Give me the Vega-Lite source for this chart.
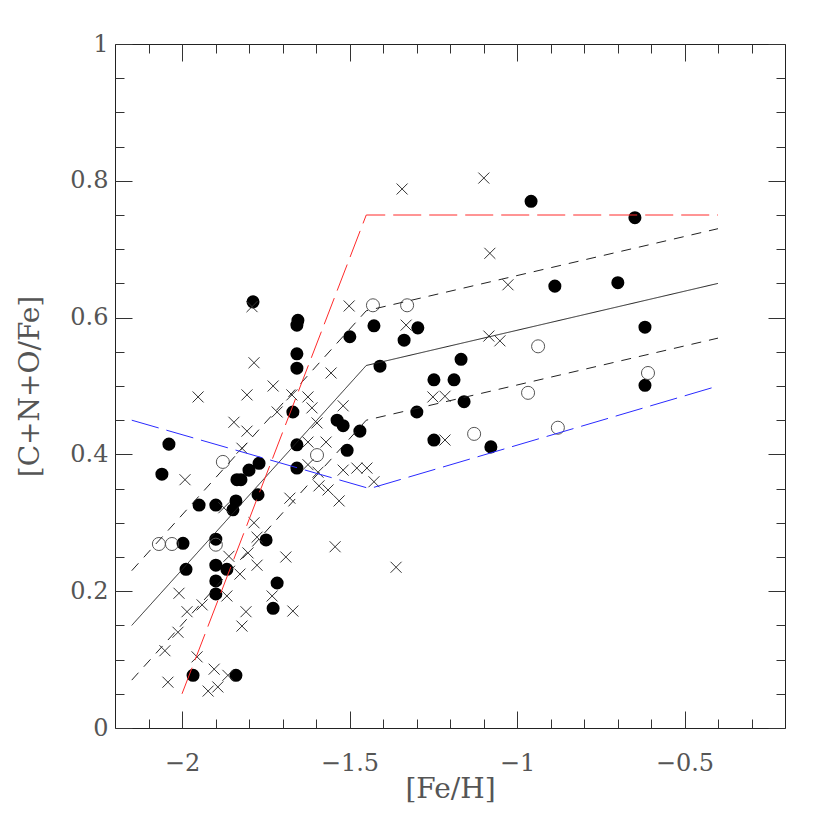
{
  "$schema": "https://vega.github.io/schema/vega-lite/v6.json",
  "width": 670,
  "height": 684,
  "autosize": "none",
  "padding": {"left": 115, "top": 44, "right": 45, "bottom": 102},
  "background": "white",
  "config": {
    "view": {"stroke": "#222", "strokeWidth": 1},
    "axis": {
      "domain": false,
      "grid": false,
      "labelFont": "DejaVu Serif",
      "titleFont": "DejaVu Serif",
      "labelColor": "#555",
      "titleColor": "#555",
      "labelFontSize": 24,
      "titleFontSize": 28,
      "titleFontWeight": "normal",
      "tickColor": "#333",
      "tickWidth": 1
    }
  },
  "datasets": {
    "filled": [
      {"x": -2.060, "y": 0.371}, {"x": -2.039, "y": 0.415}, {"x": -1.997, "y": 0.270}, {"x": -1.988, "y": 0.232},
      {"x": -1.967, "y": 0.077}, {"x": -1.949, "y": 0.326}, {"x": -1.899, "y": 0.326}, {"x": -1.899, "y": 0.276},
      {"x": -1.899, "y": 0.238}, {"x": -1.899, "y": 0.215}, {"x": -1.899, "y": 0.196}, {"x": -1.866, "y": 0.232},
      {"x": -1.848, "y": 0.319}, {"x": -1.839, "y": 0.332}, {"x": -1.836, "y": 0.363}, {"x": -1.824, "y": 0.363},
      {"x": -1.839, "y": 0.077}, {"x": -1.800, "y": 0.377}, {"x": -1.788, "y": 0.623}, {"x": -1.770, "y": 0.387},
      {"x": -1.773, "y": 0.341}, {"x": -1.749, "y": 0.275}, {"x": -1.716, "y": 0.212}, {"x": -1.728, "y": 0.175},
      {"x": -1.669, "y": 0.462}, {"x": -1.657, "y": 0.589}, {"x": -1.654, "y": 0.596}, {"x": -1.657, "y": 0.547},
      {"x": -1.657, "y": 0.526}, {"x": -1.657, "y": 0.414}, {"x": -1.657, "y": 0.380}, {"x": -1.537, "y": 0.450},
      {"x": -1.519, "y": 0.442}, {"x": -1.507, "y": 0.406}, {"x": -1.499, "y": 0.572}, {"x": -1.469, "y": 0.434},
      {"x": -1.427, "y": 0.588}, {"x": -1.409, "y": 0.529}, {"x": -1.337, "y": 0.567}, {"x": -1.296, "y": 0.585},
      {"x": -1.299, "y": 0.462}, {"x": -1.248, "y": 0.509}, {"x": -1.248, "y": 0.421}, {"x": -1.188, "y": 0.509},
      {"x": -1.167, "y": 0.539}, {"x": -1.158, "y": 0.477}, {"x": -1.078, "y": 0.411}, {"x": -0.958, "y": 0.770},
      {"x": -0.887, "y": 0.646}, {"x": -0.699, "y": 0.651}, {"x": -0.648, "y": 0.746}, {"x": -0.618, "y": 0.586},
      {"x": -0.618, "y": 0.501}
    ],
    "open": [
      {"x": -2.069, "y": 0.269}, {"x": -2.030, "y": 0.269}, {"x": -1.899, "y": 0.268}, {"x": -1.878, "y": 0.389},
      {"x": -1.597, "y": 0.399}, {"x": -1.430, "y": 0.618}, {"x": -1.328, "y": 0.618}, {"x": -0.937, "y": 0.558},
      {"x": -0.967, "y": 0.490}, {"x": -1.128, "y": 0.430}, {"x": -0.878, "y": 0.439}, {"x": -0.609, "y": 0.519}
    ],
    "cross": [
      {"x": -1.791, "y": 0.616}, {"x": -1.785, "y": 0.534}, {"x": -1.952, "y": 0.484}, {"x": -1.806, "y": 0.487},
      {"x": -1.845, "y": 0.447}, {"x": -1.806, "y": 0.434}, {"x": -1.991, "y": 0.363}, {"x": -1.821, "y": 0.409},
      {"x": -1.875, "y": 0.322}, {"x": -1.785, "y": 0.300}, {"x": -1.776, "y": 0.279}, {"x": -1.803, "y": 0.256},
      {"x": -1.860, "y": 0.251}, {"x": -1.776, "y": 0.238}, {"x": -2.009, "y": 0.197}, {"x": -1.985, "y": 0.170},
      {"x": -1.940, "y": 0.180}, {"x": -2.012, "y": 0.140}, {"x": -2.051, "y": 0.113}, {"x": -2.042, "y": 0.067},
      {"x": -1.955, "y": 0.104}, {"x": -1.904, "y": 0.086}, {"x": -1.922, "y": 0.054}, {"x": -1.893, "y": 0.060},
      {"x": -1.863, "y": 0.077}, {"x": -1.866, "y": 0.193}, {"x": -1.827, "y": 0.225}, {"x": -1.809, "y": 0.170},
      {"x": -1.821, "y": 0.149}, {"x": -1.501, "y": 0.617}, {"x": -1.555, "y": 0.519}, {"x": -1.728, "y": 0.500},
      {"x": -1.672, "y": 0.487}, {"x": -1.624, "y": 0.484}, {"x": -1.716, "y": 0.462}, {"x": -1.612, "y": 0.468},
      {"x": -1.519, "y": 0.471}, {"x": -1.597, "y": 0.446}, {"x": -1.624, "y": 0.418}, {"x": -1.570, "y": 0.418},
      {"x": -1.624, "y": 0.385}, {"x": -1.594, "y": 0.374}, {"x": -1.519, "y": 0.377}, {"x": -1.478, "y": 0.380},
      {"x": -1.448, "y": 0.380}, {"x": -1.427, "y": 0.360}, {"x": -1.591, "y": 0.354}, {"x": -1.564, "y": 0.348},
      {"x": -1.531, "y": 0.332}, {"x": -1.678, "y": 0.336}, {"x": -1.543, "y": 0.265}, {"x": -1.690, "y": 0.250},
      {"x": -1.361, "y": 0.235}, {"x": -1.731, "y": 0.193}, {"x": -1.669, "y": 0.171}, {"x": -1.343, "y": 0.788},
      {"x": -1.099, "y": 0.804}, {"x": -1.081, "y": 0.694}, {"x": -1.027, "y": 0.648}, {"x": -1.331, "y": 0.589},
      {"x": -1.084, "y": 0.573}, {"x": -1.051, "y": 0.566}, {"x": -1.251, "y": 0.484}, {"x": -1.215, "y": 0.485},
      {"x": -1.215, "y": 0.421}
    ],
    "lines": [
      {"series": "mid", "x": -2.15, "y": 0.15}, {"series": "mid", "x": -1.45, "y": 0.53}, {"series": "mid", "x": -0.4, "y": 0.65},
      {"series": "hi", "x": -2.15, "y": 0.23}, {"series": "hi", "x": -1.45, "y": 0.61}, {"series": "hi", "x": -0.4, "y": 0.73},
      {"series": "lo", "x": -2.15, "y": 0.07}, {"series": "lo", "x": -1.45, "y": 0.45}, {"series": "lo", "x": -0.4, "y": 0.57},
      {"series": "red", "x": -2.0, "y": 0.05}, {"series": "red", "x": -1.45, "y": 0.75}, {"series": "red", "x": -0.4, "y": 0.75},
      {"series": "blue", "x": -2.15, "y": 0.45}, {"series": "blue", "x": -1.44, "y": 0.35}, {"series": "blue", "x": -0.4, "y": 0.50}
    ]
  },
  "layer": [
    {
      "data": {"name": "filled"},
      "mark": {"type": "point", "shape": "circle", "filled": true, "color": "#000", "size": 170, "opacity": 1},
      "encoding": {
        "x": {"field": "x", "type": "quantitative", "scale": {"domain": [-2.2, -0.2], "nice": false, "zero": false},
          "axis": {"orient": "bottom", "values": [-2, -1.5, -1, -0.5], "ticks": false, "format": "~g", "labelPadding": 23,
            "labelBaseline": "top", "title": "[Fe/H]", "titleX": 335, "titleY": 61, "titleBaseline": "middle", "titleAlign": "center"}},
        "y": {"field": "y", "type": "quantitative", "scale": {"domain": [0, 1], "nice": false, "zero": false},
          "axis": {"orient": "left", "values": [0, 0.2, 0.4, 0.6, 0.8, 1], "ticks": false, "format": "~g", "labelPadding": 7,
            "labelBaseline": "middle", "title": "[C+N+O/Fe]", "titleX": -85, "titleY": 342, "titleAngle": -90,
            "titleBaseline": "middle", "titleAlign": "center"}}
      }
    },
    {
      "data": {"name": "open"},
      "mark": {"type": "point", "shape": "circle", "filled": false, "color": "#555", "strokeWidth": 1, "size": 170, "opacity": 1},
      "encoding": {
        "x": {"field": "x", "type": "quantitative", "scale": {"domain": [-2.2, -0.2], "nice": false, "zero": false},
          "axis": {"orient": "bottom", "values": [-2, -1.5, -1, -0.5], "tickSize": -17, "labels": false, "title": null}},
        "y": {"field": "y", "type": "quantitative", "scale": {"domain": [0, 1], "nice": false, "zero": false},
          "axis": {"orient": "left", "values": [0, 0.2, 0.4, 0.6, 0.8, 1], "tickSize": -17, "labels": false, "title": null}}
      }
    },
    {
      "data": {"name": "cross"},
      "mark": {"type": "point", "shape": "M-1,-1L1,1M-1,1L1,-1", "filled": false, "color": "#333", "strokeWidth": 1, "size": 121, "opacity": 1},
      "encoding": {
        "x": {"field": "x", "type": "quantitative", "scale": {"domain": [-2.2, -0.2], "nice": false, "zero": false},
          "axis": {"orient": "bottom", "values": [-2.1, -2.0, -1.9, -1.8, -1.7, -1.6, -1.5, -1.4, -1.3, -1.2, -1.1, -1.0, -0.9, -0.8, -0.7, -0.6, -0.5, -0.4, -0.3], "tickSize": -9, "labels": false, "title": null}},
        "y": {"field": "y", "type": "quantitative", "scale": {"domain": [0, 1], "nice": false, "zero": false},
          "axis": {"orient": "left", "values": [0.05, 0.1, 0.15, 0.2, 0.25, 0.3, 0.35, 0.4, 0.45, 0.5, 0.55, 0.6, 0.65, 0.7, 0.75, 0.8, 0.85, 0.9, 0.95], "tickSize": -9, "labels": false, "title": null}}
      }
    },
    {
      "data": {"name": "lines"},
      "transform": [{"filter": "datum.series === 'mid' || datum.series === 'hi' || datum.series === 'lo'"}],
      "mark": {"type": "line", "color": "#222", "strokeWidth": 1},
      "encoding": {
        "x": {"field": "x", "type": "quantitative", "scale": {"domain": [-2.2, -0.2], "nice": false, "zero": false},
          "axis": {"orient": "top", "values": [-2, -1.5, -1, -0.5], "tickSize": -17, "labels": false, "title": null}},
        "y": {"field": "y", "type": "quantitative", "scale": {"domain": [0, 1], "nice": false, "zero": false},
          "axis": {"orient": "right", "values": [0, 0.2, 0.4, 0.6, 0.8, 1], "tickSize": -17, "labels": false, "title": null}},
        "strokeDash": {"field": "series", "type": "nominal", "scale": {"domain": ["mid", "hi", "lo"], "range": [[1, 0], [10, 8], [10, 8]]}, "legend": null}
      }
    },
    {
      "data": {"name": "lines"},
      "transform": [{"filter": "datum.series === 'red' || datum.series === 'blue'"}],
      "mark": {"type": "line", "strokeWidth": 1, "strokeDash": [28, 8]},
      "encoding": {
        "x": {"field": "x", "type": "quantitative", "scale": {"domain": [-2.2, -0.2], "nice": false, "zero": false},
          "axis": {"orient": "top", "values": [-2.1, -2.0, -1.9, -1.8, -1.7, -1.6, -1.5, -1.4, -1.3, -1.2, -1.1, -1.0, -0.9, -0.8, -0.7, -0.6, -0.5, -0.4, -0.3], "tickSize": -9, "labels": false, "title": null}},
        "y": {"field": "y", "type": "quantitative", "scale": {"domain": [0, 1], "nice": false, "zero": false},
          "axis": {"orient": "right", "values": [0.05, 0.1, 0.15, 0.2, 0.25, 0.3, 0.35, 0.4, 0.45, 0.5, 0.55, 0.6, 0.65, 0.7, 0.75, 0.8, 0.85, 0.9, 0.95], "tickSize": -9, "labels": false, "title": null}},
        "color": {"field": "series", "type": "nominal", "scale": {"domain": ["red", "blue"], "range": ["#ff2a2a", "#2a2aff"]}, "legend": null}
      }
    }
  ],
  "resolve": {"axis": {"x": "independent", "y": "independent"}}
}
